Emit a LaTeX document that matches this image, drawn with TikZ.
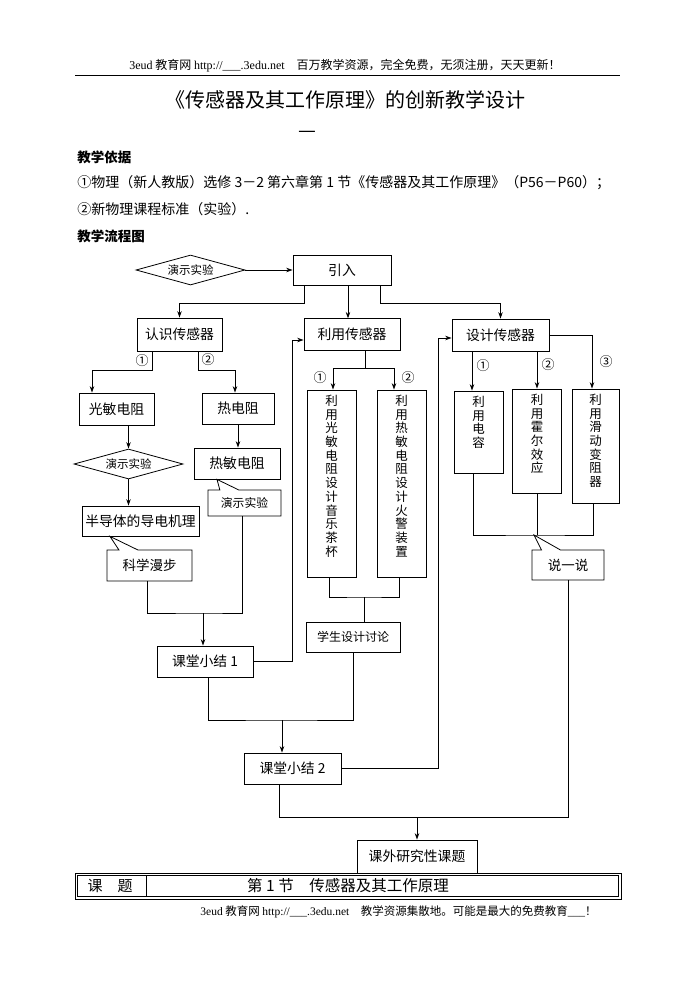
\documentclass[tikz,border=0pt]{standalone}
\usepackage{fontspec}
\setmainfont{Noto Sans CJK SC}
\newfontfamily\lat{Liberation Serif}
\usetikzlibrary{arrows.meta,shapes.geometric,shapes.callouts,calc,positioning}

\begin{document}
\begin{tikzpicture}[x=1pt,y=-1pt,line width=0.8pt,>={Stealth[length=6.5pt,width=4.5pt]},
	box/.style={draw, rectangle, inner sep=0pt, font=\fontsize{13.8}{16}\selectfont},
	dia/.style={draw, diamond, aspect=3.6, inner sep=1pt, minimum width=109pt, minimum height=30pt, font=\fontsize{11.5}{13}\selectfont},
	vbox/.style={draw, rectangle, inner sep=0pt},
	vtext/.style={align=center, inner sep=0pt, anchor=north, yshift=-5pt, font=\fontsize{12.5}{13.7}\selectfont},
	note/.style={draw, fill=white, rectangle callout, callout pointer width=19pt, inner sep=0pt, font=\fontsize{13.5}{15}\selectfont},
	num/.style={inner sep=0pt, font=\fontsize{13}{14}\selectfont},
	txt/.style={anchor=west, inner sep=0pt, font=\fontsize{14}{16}\selectfont}]
	\useasboundingbox (0,0) rectangle (695,982);
	% page head
	\node[font=\fontsize{12}{14}\selectfont] (head) at (345,66) {{\lat 3eud} 教育网 {\lat http://\_\_\_.3edu.net}\quad 百万教学资源，完全免费，无须注册，天天更新！};
	\draw (75,75) -- (620,75);
	\node[font=\fontsize{20}{22}\selectfont] (title) at (345,100) {《传感器及其工作原理》的创新教学设计};
	\node[font=\fontsize{20}{22}\selectfont] (dash) at (307,134) {—};
	\node[txt, font=\bfseries\fontsize{13.5}{15}\selectfont] (basis) at (77,157) {教学依据};
	\node[txt] (ref1) at (77,183) {①物理（新人教版）选修 3－2 第六章第 1 节《传感器及其工作原理》（P56－P60）；};
	\node[txt] (ref2) at (77,209) {②新物理课程标准（实验）.};
	\node[txt, font=\bfseries\fontsize{13.5}{15}\selectfont] (flow) at (77,236) {教学流程图};
	% boxes
	\node[dia] (demo0) at (190.5,270) {演示实验};
	\node[box, minimum width=98pt, minimum height=30pt] (intro) at (342,270) {引入};
	\node[box, minimum width=85pt, minimum height=33pt] (know) at (179.5,334.5) {认识传感器};
	\node[box, minimum width=96pt, minimum height=32pt] (use) at (352,334) {利用传感器};
	\node[box, minimum width=97pt, minimum height=32pt] (design) at (500.5,335) {设计传感器};
	\node[box, minimum width=75pt, minimum height=32pt] (photo) at (116.5,409) {光敏电阻};
	\node[box, minimum width=72pt, minimum height=31pt] (therm) at (238,408.5) {热电阻};
	\node[dia] (demo1) at (128.5,464) {演示实验};
	\node[box, minimum width=117pt, minimum height=30pt] (semi) at (140.5,521) {半导体的导电机理};
	\node[box, minimum width=86pt, minimum height=31pt] (thermis) at (237,463.5) {热敏电阻};
	\node[note, minimum width=73pt, minimum height=26pt, font=\fontsize{11.8}{13}\selectfont,
		callout absolute pointer={([xshift=-20pt]thermis.south)}] (demo2) at (244.5,503) {演示实验};
	\node[note, minimum width=85pt, minimum height=31pt,
		callout absolute pointer={([xshift=-30.5pt]semi.south)}] (walk) at (149.5,565.5) {科学漫步};
	\node[vbox, minimum width=49pt, minimum height=187pt, label={[vtext]north:{利\\用\\光\\敏\\电\\阻\\设\\计\\音\\乐\\茶\\杯}}] (vmusic) at (331.5,483.5) {};
	\node[vbox, minimum width=49pt, minimum height=187pt, label={[vtext]north:{利\\用\\热\\敏\\电\\阻\\设\\计\\火\\警\\装\\置}}] (vfire) at (401.5,483.5) {};
	\node[vbox, minimum width=49pt, minimum height=82pt, label={[vtext]north:{利\\用\\电\\容}}] (vcap) at (478.5,432) {};
	\node[vbox, minimum width=49pt, minimum height=104pt, label={[vtext]north:{利\\用\\霍\\尔\\效\\应}}] (vhall) at (537,441) {};
	\node[vbox, minimum width=47pt, minimum height=114pt, label={[vtext]north:{利\\用\\滑\\动\\变\\阻\\器}}] (vrheo) at (595.5,446) {};
	\coordinate (bus) at (537,535);
	\node[note, minimum width=72pt, minimum height=30pt,
		callout absolute pointer={([xshift=-3pt]bus)}] (say) at (568,565) {说一说};
	\node[box, minimum width=94pt, minimum height=30pt, font=\fontsize{12}{14}\selectfont] (discuss) at (353,637) {学生设计讨论};
	\node[box, minimum width=96pt, minimum height=31pt] (sum1) at (205,661.5) {课堂小结 1};
	\node[box, minimum width=97pt, minimum height=31pt] (sum2) at (292.5,768.5) {课堂小结 2};
	% links from the top
	\draw[->] (demo0.east) -- (intro.west);
	\draw[->] ([xshift=-38pt]intro.south) -- ++(0,18) -| (know.north);
	\draw[->] ([xshift=6pt]intro.south) -- ++(0,33);
	\draw[->] ([xshift=38pt]intro.south) -- ++(0,18) -| (design.north);
	% left branch
	\draw[->] ([xshift=-27.5pt]know.south) -- ++(0,19) -| ([xshift=-24.5pt]photo.north);
	\node[num] (k1) at (142,361) {①};
	\draw[->] ([xshift=18.5pt]know.south) -- ++(0,19) -| ([xshift=-3pt]therm.north);
	\node[num] (k2) at (208,360) {②};
	\draw[->] (photo.south -| demo1.north) -- (demo1.north);
	\draw[->] (demo1.south) -- (demo1.south |- semi.north);
	\draw[->] (therm.south) -- (therm.south |- thermis.north);
	\coordinate (m1) at (203,613);
	\draw ([xshift=-2.5pt]walk.south) |- (m1) -| ([xshift=-2.5pt]demo2.south);
	\draw[->] (m1) -- (m1 |- sum1.north);
	% middle branch
	\draw ([xshift=13pt]use.south) -- ++(0,18) coordinate (m3);
	\draw[->] (m3) -| ([xshift=1.5pt]vmusic.north);
	\draw[->] (m3) -| ([xshift=-7.5pt]vfire.north);
	\node[num] (u1) at (320,378) {①};
	\node[num] (u2) at (408,378) {②};
	\coordinate (m2) at (364,597);
	\draw ([xshift=-2.5pt]vmusic.south) |- (m2) -| ([xshift=-2.5pt]vfire.south);
	\draw (m2) -- (m2 |- discuss.north);
	% right branch
	\draw[->] ([xshift=-28.5pt]design.south) -- ([xshift=-6.5pt]vcap.north);
	\draw[->] ([xshift=36.5pt]design.south) -- (vhall.north);
	\draw[->] (design.east) -| ([xshift=-3.5pt]vrheo.north);
	\node[num] (d1) at (483,366) {①};
	\node[num] (d2) at (548,365) {②};
	\node[num] (d3) at (606,362) {③};
	\draw ([xshift=-5.5pt]vcap.south) |- (bus) -| ([xshift=-2.5pt]vrheo.south);
	\draw (vhall.south) -- (bus);
	% summaries
	\draw[->] (sum1.east) -- ++(39,0) |- ([yshift=-6pt]use.west);
	\coordinate (m4) at (282,720);
	\draw ([xshift=3pt]sum1.south) |- (m4) -| (discuss.south);
	\draw[->] (m4) -- (m4 |- sum2.north);
	\draw[->] (sum2.east) -- ++(97,0) |- ([yshift=-3pt]design.west);
	% table row and last box
	\draw[line width=0.7pt] (75,873) rectangle (621,899);
	\draw[line width=0.7pt] (77.5,875.5) rectangle (618.5,896.5);
	\draw[line width=0.7pt] (146,875.5) -- (146,896.5);
	\node[font=\fontsize{15}{16}\selectfont] (cell1) at (110,886) {课\quad 题};
	\node[font=\fontsize{15.5}{17}\selectfont] (cell2) at (348,886) {第 1 节\quad 传感器及其工作原理};
	\node[box, fill=white, minimum width=120pt, minimum height=33pt] (extra) at (417,856.5) {课外研究性课题};
	\coordinate (m5) at (417,817);
	\draw ([xshift=-13pt]sum2.south) |- (m5) -| (say.south);
	\draw[->] (m5) -- (extra.north);
	% page foot
	\node[anchor=west, inner sep=0pt, font=\fontsize{11.5}{13}\selectfont] (foot) at (200,912) {{\lat 3eud} 教育网 {\lat http://\_\_\_.3edu.net}\quad 教学资源集散地。可能是最大的免费教育{\lat\_\_\_}！};
\end{tikzpicture}
\end{document}
